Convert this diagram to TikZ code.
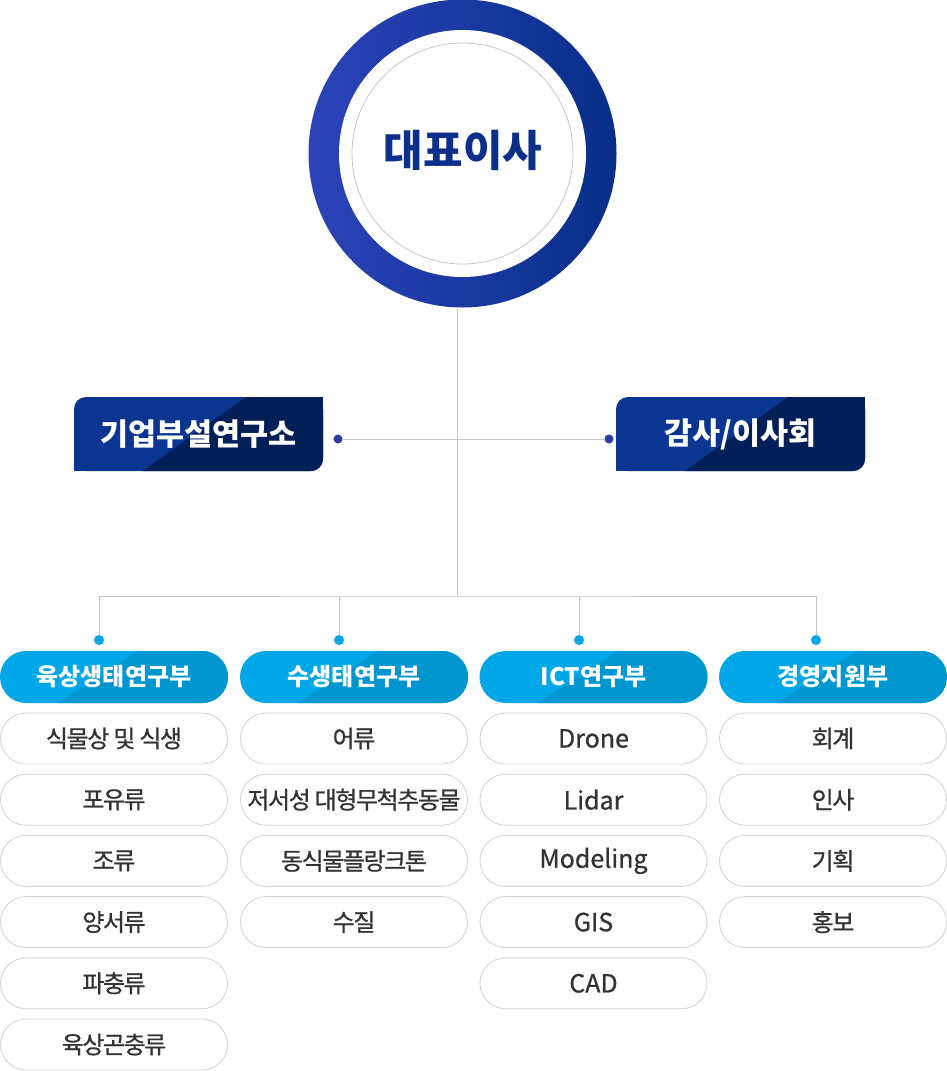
\documentclass[tikz,border=0pt]{standalone}
\usepackage{fontspec}
\newfontfamily\krfont{Noto Sans CJK KR}
\newfontfamily\krmed{Noto Sans CJK KR}[FakeBold=0.8, LetterSpace=-6]
\newfontfamily\krlatin{Noto Sans CJK KR}[FakeBold=0.8]
\usetikzlibrary{positioning,calc}

\definecolor{ringL}{HTML}{2C43B9}
\definecolor{ringR}{HTML}{072E88}
\definecolor{ceotext}{HTML}{0C2F8C}
\definecolor{navyA}{HTML}{0A3591}
\definecolor{navyB}{HTML}{031F58}
\definecolor{navydot}{HTML}{2A3BA2}
\definecolor{skyA}{HTML}{02A7E8}
\definecolor{skyB}{HTML}{0096CF}
\definecolor{linegray}{HTML}{C8C8C8}
\definecolor{pillgray}{HTML}{D4D4D4}
\definecolor{itemtext}{HTML}{333333}

\tikzset{
  conn/.style={draw=linegray, line width=1pt},
  topbox/.style={minimum width=249pt, minimum height=74pt, inner sep=0pt,
    fill=navyA, rounded corners=12pt, text=white,
    font=\krfont\bfseries\fontsize{30.5}{30.5}\selectfont,
    path picture={\fill[navyB, sharp corners]
      ([xshift=172pt]path picture bounding box.north west)
      -- (path picture bounding box.north east)
      -- (path picture bounding box.south east)
      -- ([xshift=69pt]path picture bounding box.south west) -- cycle;}},
  dept/.style={minimum width=228pt, minimum height=52pt, inner sep=0pt,
    fill=skyA, rounded corners=26pt, text=white,
    font=\krfont\bfseries\fontsize{24}{24}\selectfont,
    path picture={\fill[skyB, sharp corners]
      ([xshift=138pt]path picture bounding box.north west)
      -- (path picture bounding box.north east)
      -- (path picture bounding box.south east)
      -- ([xshift=58pt]path picture bounding box.south west) -- cycle;}},
  item/.style={minimum width=227pt, minimum height=51pt, inner sep=0pt,
    draw=pillgray, line width=0.9pt, fill=white, rounded corners=25.5pt,
    text=itemtext, font=\krmed\fontsize{24}{24}\selectfont},
  latinitem/.style={item, font=\krlatin\fontsize{25}{25}\selectfont},
  navydotst/.style={circle, fill=navydot, inner sep=0pt, minimum size=9pt},
  skydotst/.style={circle, fill=skyA, inner sep=0pt, minimum size=10pt},
}

\begin{document}
\begin{tikzpicture}[x=1pt, y=-1pt]
  \useasboundingbox (0,0) rectangle (947,1071);

  % 대표이사
  \node[circle, minimum size=308pt, inner sep=0pt, left color=ringL, right color=ringR] (ceo) at (462.5,153.5) {};
  \node[circle, minimum size=247pt, inner sep=0pt, fill=white] (ceoin) at (ceo.center) {};
  \node[circle, minimum size=221pt, inner sep=0pt, draw=black!22, line width=0.8pt] (ceoline) at (ceo.center) {};
  \node[font=\krfont\bfseries\fontsize{43}{43}\selectfont, text=ceotext] (ceotitle) at (463,150) {대표이사};

  \coordinate (stemtop) at (457,307);
  \coordinate (stembot) at (457,596);
  \draw[conn] (stemtop) -- (stembot);

  % 연구소 / 감사
  \node[topbox] (lab) at (198.5,434) {기업부설연구소};
  \fill[navyB] (lab.north east) rectangle ++(-12,12);
  \fill[navyA] (lab.south west) rectangle ++(12,-12);
  \node[topbox] (audit) at (740.5,434) {감사/이사회};
  \fill[navyB] (audit.north east) rectangle ++(-12,12);
  \fill[navyA] (audit.south west) rectangle ++(12,-12);
  \node[navydotst] (labdot) at (338,439) {};
  \node[navydotst] (auditdot) at (609,439) {};
  \draw[conn] (labdot) -- (auditdot);

  % 부서
  \node[dept] (land) at (114,677) {육상생태연구부};
  \node[dept] (water) at (354,677) {수생태연구부};
  \node[dept] (ict) at (593.5,677) {ICT연구부};
  \node[dept] (mgmt) at (833,677) {경영지원부};

  \node[skydotst] (landdot) at (99,640) {};
  \node[skydotst] (waterdot) at (339,640) {};
  \node[skydotst] (ictdot) at (579,640) {};
  \node[skydotst] (mgmtdot) at (816,640) {};
  \draw[conn] (landdot) |- (stembot) -| (mgmtdot);
  \draw[conn] (waterdot) -- (waterdot |- stembot);
  \draw[conn] (ictdot) -- (ictdot |- stembot);

  % 세부 항목
  \foreach \txt [count=\i] in {식물상 및 식생, 포유류, 조류, 양서류, 파충류, 육상곤충류}
    \node[item] (land\i) at (114,677.3+61.2*\i) {\txt};
  \foreach \txt [count=\i] in {어류, 저서성 대형무척추동물, 동식물플랑크톤, 수질}
    \node[item] (water\i) at (354,677.3+61.2*\i) {\txt};
  \foreach \txt [count=\i] in {Drone, Lidar, Modeling, GIS, CAD}
    \node[latinitem] (ict\i) at (593.5,677.3+61.2*\i) {\txt};
  \foreach \txt [count=\i] in {회계, 인사, 기획, 홍보}
    \node[item] (mgmt\i) at (833,677.3+61.2*\i) {\txt};
\end{tikzpicture}
\end{document}
